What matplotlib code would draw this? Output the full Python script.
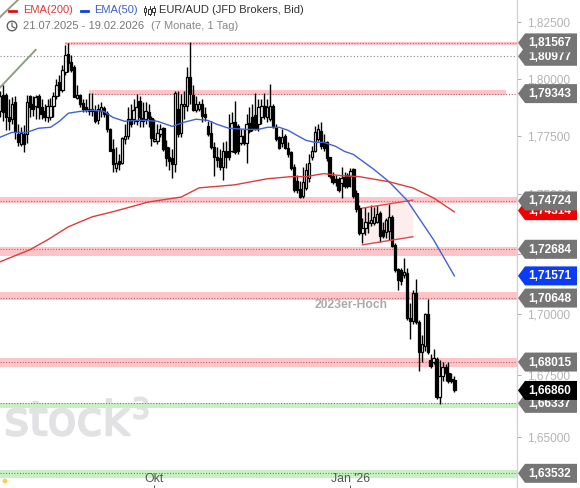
import matplotlib
matplotlib.use("Agg")
import matplotlib.pyplot as plt
import matplotlib.patheffects as pe
from matplotlib.patches import Polygon, Circle
from matplotlib.transforms import IdentityTransform

plt.rcParams['font.family'] = ['Liberation Sans', 'DejaVu Sans']

# daily candles, 21.07.2025 - 19.02.2026
opens = [1.7857,1.7927,1.7927,1.7831,1.7823,1.7896,1.7758,1.7714,1.7758,1.7758,
         1.7922,1.7888,1.7879,1.7922,1.7875,1.7857,1.7831,1.7831,1.7879,1.7922,
         1.7987,1.7952,1.8030,1.8108,1.8074,1.8052,1.7914,1.7927,1.7892,1.7875,
         1.7857,1.7866,1.7857,1.7818,1.7857,1.7870,1.7849,1.7779,1.7693,1.7615,
         1.7641,1.7636,1.7736,1.7749,1.7823,1.7823,1.7814,1.7901,1.7827,1.7823,
         1.7853,1.7827,1.7727,1.7727,1.7758,1.7784,1.7701,1.7662,1.7654,1.7628,
         1.7866,1.7762,1.7879,1.7879,1.8009,1.7927,1.7862,1.7866,1.7888,1.7844,
         1.7792,1.7762,1.7701,1.7662,1.7654,1.7619,1.7688,1.7684,1.7684,1.7810,
         1.7792,1.7719,1.7749,1.7719,1.7805,1.7831,1.7840,1.7801,1.7831,1.7879,
         1.7831,1.7823,1.7879,1.7788,1.7745,1.7719,1.7749,1.7697,1.7680,1.7619,
         1.7558,1.7524,1.7494,1.7528,1.7571,1.7658,1.7688,1.7736,1.7771,1.7723,
         1.7723,1.7658,1.7580,1.7567,1.7567,1.7550,1.7576,1.7584,1.7580,1.7610,
         1.7507,1.7442,1.7337,1.7358,1.7379,1.7379,1.7379,1.7384,1.7421,1.7350,
         1.7342,1.7346,1.7405,1.7287,1.7186,1.7182,1.7161,1.7169,1.6983,1.6971,
         1.7085,1.6967,1.6841,1.6866,1.6999,1.6809,1.6801,1.6813,1.6659,1.6744,
         1.6781,1.6756,1.6732,1.6728]
highs = [1.7944,1.7974,1.7935,1.7909,1.7918,1.7922,1.7801,1.7788,1.7797,1.7927,
         1.7927,1.7922,1.7927,1.7931,1.7909,1.7888,1.7909,1.7914,1.7940,1.7996,
         1.8017,1.8061,1.8147,1.8156,1.8104,1.8061,1.7974,1.7931,1.7909,1.7909,
         1.7935,1.7935,1.7883,1.7888,1.7896,1.7879,1.7857,1.7784,1.7736,1.7701,
         1.7671,1.7745,1.7801,1.7875,1.7888,1.7909,1.7931,1.7922,1.7896,1.7896,
         1.7888,1.7836,1.7823,1.7801,1.7801,1.7788,1.7732,1.7701,1.7693,1.7944,
         1.7944,1.7931,1.7944,1.8052,1.8160,1.7974,1.7922,1.7901,1.7909,1.7875,
         1.7814,1.7814,1.7723,1.7701,1.7693,1.7723,1.7727,1.7844,1.7853,1.7901,
         1.7801,1.7779,1.7779,1.7844,1.7875,1.7888,1.7935,1.7909,1.7909,1.7935,
         1.7909,1.7978,1.7888,1.7801,1.7749,1.7779,1.7758,1.7723,1.7684,1.7628,
         1.7584,1.7558,1.7619,1.7636,1.7671,1.7706,1.7792,1.7801,1.7810,1.7758,
         1.7727,1.7662,1.7597,1.7584,1.7576,1.7619,1.7597,1.7593,1.7615,1.7615,
         1.7520,1.7455,1.7400,1.7447,1.7426,1.7455,1.7447,1.7455,1.7430,1.7384,
         1.7400,1.7459,1.7413,1.7295,1.7190,1.7190,1.7232,1.7190,1.7044,1.7098,
         1.7144,1.6975,1.6914,1.7003,1.7060,1.6833,1.6854,1.6821,1.6809,1.6801,
         1.6793,1.6801,1.6756,1.6744]
lows = [1.7831,1.7814,1.7775,1.7775,1.7801,1.7736,1.7706,1.7706,1.7680,1.7719,
        1.7831,1.7836,1.7823,1.7823,1.7823,1.7814,1.7810,1.7818,1.7831,1.7909,
        1.7922,1.7940,1.8017,1.8030,1.8030,1.7918,1.7909,1.7875,1.7853,1.7853,
        1.7840,1.7836,1.7805,1.7801,1.7831,1.7831,1.7766,1.7684,1.7597,1.7597,
        1.7606,1.7628,1.7714,1.7736,1.7788,1.7801,1.7797,1.7788,1.7788,1.7801,
        1.7788,1.7706,1.7723,1.7714,1.7745,1.7684,1.7623,1.7606,1.7571,1.7597,
        1.7745,1.7745,1.7823,1.7857,1.7888,1.7857,1.7853,1.7857,1.7810,1.7814,
        1.7749,1.7693,1.7580,1.7619,1.7606,1.7563,1.7615,1.7649,1.7680,1.7671,
        1.7675,1.7710,1.7710,1.7636,1.7762,1.7771,1.7775,1.7771,1.7801,1.7823,
        1.7810,1.7814,1.7784,1.7727,1.7693,1.7701,1.7693,1.7662,1.7606,1.7511,
        1.7507,1.7485,1.7485,1.7520,1.7554,1.7649,1.7680,1.7727,1.7693,1.7684,
        1.7645,1.7571,1.7545,1.7537,1.7511,1.7485,1.7528,1.7528,1.7532,1.7485,
        1.7426,1.7329,1.7295,1.7329,1.7337,1.7367,1.7371,1.7379,1.7300,1.7316,
        1.7316,1.7308,1.7279,1.7174,1.7098,1.7119,1.7148,1.6975,1.6894,1.6959,
        1.6959,1.6764,1.6801,1.6845,1.6833,1.6777,1.6793,1.6651,1.6631,1.6724,
        1.6724,1.6716,1.6716,1.6679]
closes = [1.7922,1.7853,1.7831,1.7814,1.7888,1.7766,1.7723,1.7762,1.7714,1.7896,
          1.7875,1.7866,1.7918,1.7875,1.7844,1.7831,1.7879,1.7879,1.7922,1.7974,
          1.7952,1.8039,1.8104,1.8069,1.8039,1.7918,1.7927,1.7888,1.7866,1.7862,
          1.7866,1.7857,1.7814,1.7866,1.7875,1.7844,1.7779,1.7688,1.7632,1.7636,
          1.7628,1.7740,1.7749,1.7823,1.7801,1.7862,1.7875,1.7831,1.7814,1.7857,
          1.7827,1.7740,1.7736,1.7762,1.7779,1.7693,1.7654,1.7645,1.7628,1.7935,
          1.7758,1.7888,1.7888,1.8009,1.7931,1.7862,1.7888,1.7888,1.7836,1.7831,
          1.7758,1.7701,1.7662,1.7649,1.7619,1.7684,1.7662,1.7658,1.7805,1.7680,
          1.7684,1.7749,1.7719,1.7801,1.7771,1.7779,1.7779,1.7875,1.7879,1.7836,
          1.7875,1.7879,1.7788,1.7736,1.7697,1.7745,1.7697,1.7675,1.7615,1.7520,
          1.7520,1.7489,1.7554,1.7606,1.7636,1.7688,1.7766,1.7779,1.7706,1.7697,
          1.7654,1.7580,1.7554,1.7554,1.7520,1.7571,1.7537,1.7537,1.7602,1.7494,
          1.7438,1.7337,1.7358,1.7384,1.7384,1.7392,1.7405,1.7417,1.7325,1.7325,
          1.7392,1.7405,1.7283,1.7182,1.7140,1.7136,1.7174,1.6983,1.6971,1.7085,
          1.6967,1.6841,1.6874,1.6999,1.6841,1.6785,1.6817,1.6659,1.6744,1.6781,
          1.6756,1.6724,1.6724,1.6687]

ema50_day = [0,4,9,13,17,20,23,27,31,35,38,42,46,49,53,58,62,66,70,73,77,83,87,90,
             94,97,100,103,106,109,113,116,119,126,131,137,146,153]
ema50 = [1.7745,1.7766,1.7766,1.7784,1.7788,1.7814,1.7849,1.7857,1.7862,1.7857,
         1.7831,1.7814,1.7818,1.7818,1.7814,1.7792,1.7810,1.7823,1.7818,1.7801,
         1.7784,1.7779,1.7779,1.7788,1.7788,1.7775,1.7753,1.7732,1.7723,1.7723,
         1.7706,1.7684,1.7671,1.7606,1.7554,1.7476,1.7308,1.7157]
ema200_day = [0,5,10,16,23,31,39,50,61,67,79,90,98,103,109,115,121,131,139,146,153]
ema200 = [1.7216,1.7241,1.7266,1.7308,1.7363,1.7405,1.7430,1.7468,1.7489,1.7528,
          1.7541,1.7567,1.7576,1.7576,1.7589,1.7580,1.7576,1.7554,1.7528,1.7485,1.7426]

# zones: lower, upper, level, first day, last day
zone_low = [1.8147,1.7927,1.7463,1.7241,1.7056,1.6781,1.6615,1.6335]
zone_high = [1.8162,1.7952,1.7489,1.7279,1.7090,1.6817,1.6635,1.6366]
zone_level = [1.81567,1.79343,1.74724,1.72684,1.70648,1.68015,1.66337,1.63532]
zone_start = [22,30,0,0,0,0,0,0]
zone_end = [174.1,170.4,174.1,174.1,174.1,174.1,174.1,174.1]
zone_fill = ['#ffc4c8']*6 + ['#c8f0c4']*2
zone_dots = ['#b8666a']*6 + ['#5f8f62']*2

channel_day = [122,139]
channel_top = [1.7442,1.7476]
channel_bottom = [1.7287,1.7321]

trend_day = [0,12]
trend_price = [1.7961,1.8126]
trend2_day = [0,6]
trend2_price = [1.8271,1.8347]

ytick_values = [1.825,1.80,1.775,1.75,1.725,1.70,1.675,1.65]
ytick_labels = ['1,82500','1,80000','1,77500','1,75000','1,72500','1,70000','1,67500','1,65000']
xtick_days = [52,118]
xtick_labels = ['Okt',"Jan '26"]

# price tags on the right, drawn in this order
tag_values = [1.80977,1.81567,1.79343,1.74314,1.74724,1.72684,1.71571,1.70648,1.68015,1.66337,1.66860,1.63532]
tag_labels = ['1,80977','1,81567','1,79343','1,74314','1,74724','1,72684','1,71571','1,70648','1,68015','1,66337','1,66860','1,63532']
tag_colors = ['#757575','#757575','#757575','#f00000','#757575','#757575','#0a3cf5','#757575','#757575','#757575','#000000','#757575']

W, H = 580, 488

fig = plt.figure(figsize=(W/100, H/100), dpi=100)
ax = fig.add_axes([0, 0, 517/W, 1])
ax.set_yscale('log')
ax.set_xlim(0, 174.07)
ax.set_ylim(1.6295, 1.8347)

for s in ['top', 'left', 'bottom']:
    ax.spines[s].set_visible(False)
ax.spines['right'].set_color('#d4d4d4')
ax.spines['right'].set_linewidth(1.0)

ax.yaxis.tick_right()
ax.set_yticks(ytick_values, ytick_labels)
ax.minorticks_off()
ax.tick_params(axis='y', which='major', length=3, width=0.7, color='#aaaaaa',
               labelcolor='#b4b4b4', labelsize=8.6, pad=4.5)
ax.set_xticks(xtick_days, xtick_labels)
ax.tick_params(axis='x', direction='in', length=2.5, width=0.7, color='#555555',
               labelcolor='#555555', labelsize=8.8, pad=-11)

# watermark, thickened a bit with a stroke
thick = [pe.withStroke(linewidth=1.6, foreground='#e2e2e5')]
ax.text(1.5, 1.6506, 'stock', fontsize=34, color='#e2e2e5', family='DejaVu Sans',
        va='baseline', zorder=0.5, path_effects=thick)
ax.text(44.5, 1.6574, '3', fontsize=20, color='#e2e2e5', family='DejaVu Sans',
        va='baseline', zorder=0.5, path_effects=thick)

# zones
for lo, hi, lvl, a, b, c, d in zip(zone_low, zone_high, zone_level, zone_start, zone_end, zone_fill, zone_dots):
    ax.fill_between([a, b], lo, hi, color=c, lw=0, zorder=1)
    ax.plot([a, 174.07], [lvl, lvl], color=d, lw=0.8, ls=(0, (1, 1.5)), zorder=1.5)
ax.axhline(1.80977, color='#8a8a8a', lw=0.8, ls=(0, (1, 2)), zorder=1.5)

ax.fill_between(channel_day, channel_bottom, channel_top, color='#fdeeee', lw=0, zorder=1.2)
ax.plot(channel_day, channel_top, color='#de4a4a', lw=1.0, zorder=4)
ax.plot(channel_day, channel_bottom, color='#de4a4a', lw=1.0, zorder=4)

ax.plot(trend_day, trend_price, color='#8f9f84', lw=1.4, zorder=2)
ax.plot(trend2_day, trend2_price, color='#8f9f84', lw=1.4, zorder=2)

# candles
days = list(range(len(closes)))
ax.vlines(days, lows, highs, color='black', lw=1.0, zorder=3)
for d, o, c in zip(days, opens, closes):
    face = 'white' if c > o else 'black'
    ax.bar(d, abs(c - o), bottom=min(o, c), width=0.8, facecolor=face, edgecolor='black',
           linewidth=0.9, zorder=3.2)

ax.plot(ema50_day, ema50, color='#3f62d6', lw=1.0, zorder=4)
ax.plot(ema200_day, ema200, color='#dd3c3c', lw=1.0, zorder=4)

ax.text(106, 1.7036, '2023er-Hoch', fontsize=8.7, fontweight='bold', color='#ababab', va='center', zorder=3.5)

# tags, each one covers the ones before it
ident = IdentityTransform()
for k, (val, lab, col) in enumerate(zip(tag_values, tag_labels, tag_colors)):
    y = ax.transData.transform((0, val))[1]
    ax.add_patch(Polygon([(518, y), (525, y+9.5), (577, y+9.5), (577, y-9.5), (525, y-9.5)],
                         closed=True, fc=col, ec='none', transform=ident, clip_on=False, zorder=6+k*0.02))
    ax.text(528, y-0.5, lab, color='white', fontsize=8.6, fontweight='bold', va='center', ha='left',
            transform=ident, clip_on=False, zorder=6.01+k*0.02)

# header
def px(x, y):
    return x, H - y

def head(x, y, s, col, size=8):
    ax.text(*px(x, y), s, color=col, fontsize=size, va='center', ha='left', transform=ident, zorder=7)

ax.plot([9, 16], [H-11, H-11], color='#e01010', lw=2, transform=ident, clip_on=False, zorder=7)
head(23, 10, 'EMA(200)', '#dd3a3a')
ax.plot([81, 88], [H-11, H-11], color='#1040e0', lw=2, transform=ident, clip_on=False, zorder=7)
head(94, 10, 'EMA(50)', '#3a5fd0')
# small candle icon
for x0, top, bot, t2, b2 in [(145, 6, 15, 8, 12), (149.5, 6, 15, 9, 14), (153.5, 6, 15, 8, 12)]:
    ax.plot([x0, x0], [H-top, H-bot], color='#333333', lw=0.7, transform=ident, zorder=7)
    ax.add_patch(Polygon([(x0-1.2, H-t2), (x0+1.2, H-t2), (x0+1.2, H-b2), (x0-1.2, H-b2)], closed=True,
                         fc='white', ec='#333333', lw=0.7, transform=ident, zorder=7.1))
head(159, 10, 'EUR/AUD (JFD Brokers, Bid)', '#333333')

ax.add_patch(Circle(px(12, 26), 4.8, fc='none', ec='#555555', lw=0.9, transform=ident, zorder=7))
ax.plot([12, 12, 15], [H-23, H-26.5, H-28], color='#555555', lw=0.8, transform=ident, zorder=7)
head(23, 26, '21.07.2025 - 19.02.2026', '#777777')
head(151, 26, '(7 Monate, 1 Tag)', '#888888')

ax.add_patch(Circle(px(5, 481), 2.4, fc='#ffcc44', ec='none', transform=ident, zorder=7))

fig.savefig('out.png', dpi=100)
